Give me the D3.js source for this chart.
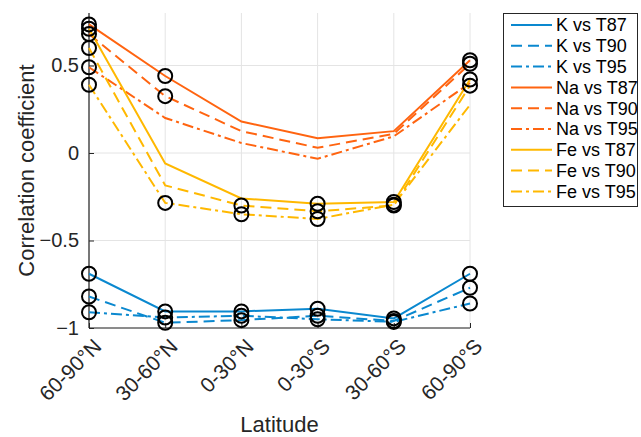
<!DOCTYPE html>
<html>
<head>
<meta charset="utf-8">
<script src="https://cdn.jsdelivr.net/npm/d3@7"></script>
<style>
  body { margin: 0; background: #fff; }
  svg { display: block; font-family: "Liberation Sans", Arial, sans-serif; }
</style>
</head>
<body>
<svg id="chart"></svg>
<script>
// Latitude bands on the x axis
const latitudes = ["60-90°N", "30-60°N", "0-30°N", "0-30°S", "30-60°S", "60-90°S"];
const yTicks = [-1, -0.5, 0, 0.5];

// Correlation values
const kT87 = [-0.69, -0.905, -0.905, -0.89, -0.945, -0.69];
const kT90 = [-0.82, -0.97, -0.955, -0.93, -0.96, -0.77];
const kT95 = [-0.91, -0.94, -0.93, -0.95, -0.965, -0.86];
const naT87 = [0.735, 0.44, 0.18, 0.085, 0.125, 0.53];
const naT90 = [0.68, 0.325, 0.125, 0.03, 0.11, 0.51];
const naT95 = [0.49, 0.20, 0.057, -0.033, 0.095, 0.40];
const feT87 = [0.71, -0.06, -0.26, -0.29, -0.28, 0.42];
const feT90 = [0.60, -0.185, -0.30, -0.333, -0.30, 0.385];
const feT95 = [0.39, -0.285, -0.35, -0.377, -0.295, 0.275];

// points marked with a black circle (1 = marked)
const kT87Sig = [1, 1, 1, 1, 1, 1];
const kT90Sig = [1, 1, 1, 1, 1, 1];
const kT95Sig = [1, 1, 1, 1, 1, 1];
const naT87Sig = [1, 1, 0, 0, 0, 1];
const naT90Sig = [1, 1, 0, 0, 0, 1];
const naT95Sig = [1, 0, 0, 0, 0, 0];
const feT87Sig = [1, 0, 0, 1, 1, 1];
const feT90Sig = [1, 0, 1, 1, 1, 1];
const feT95Sig = [1, 1, 1, 1, 1, 0];

const seriesNames = ["K vs T87", "K vs T90", "K vs T95", "Na vs T87", "Na vs T90", "Na vs T95", "Fe vs T87", "Fe vs T90", "Fe vs T95"];

const blue = "#0a88cf", orange = "#ff6410", yellow = "#ffb800";
const solid = null, dashed = "11,6", dashDot = "11,4,3,4";

const series = [
  { name: seriesNames[0], values: kT87, sig: kT87Sig, color: blue, dash: solid },
  { name: seriesNames[1], values: kT90, sig: kT90Sig, color: blue, dash: dashed },
  { name: seriesNames[2], values: kT95, sig: kT95Sig, color: blue, dash: dashDot },
  { name: seriesNames[3], values: naT87, sig: naT87Sig, color: orange, dash: solid },
  { name: seriesNames[4], values: naT90, sig: naT90Sig, color: orange, dash: dashed },
  { name: seriesNames[5], values: naT95, sig: naT95Sig, color: orange, dash: dashDot },
  { name: seriesNames[6], values: feT87, sig: feT87Sig, color: yellow, dash: solid },
  { name: seriesNames[7], values: feT90, sig: feT90Sig, color: yellow, dash: dashed },
  { name: seriesNames[8], values: feT95, sig: feT95Sig, color: yellow, dash: dashDot }
];

const width = 641, height = 437;
const plotLeft = 89, plotRight = 470, plotTop = 13, plotBottom = 328;
const axisColor = "#262626";

const svg = d3.select("#chart").attr("width", width).attr("height", height);

const x = d3.scalePoint().domain(latitudes).range([plotLeft, plotRight]);
const y = d3.scaleLinear().domain([-1, 0.8]).range([plotBottom, plotTop]);

// grid
svg.append("g").selectAll("line")
  .data(latitudes).enter().append("line")
  .attr("x1", d => x(d)).attr("x2", d => x(d))
  .attr("y1", plotTop).attr("y2", plotBottom)
  .attr("stroke", "#e4e4e4").attr("stroke-width", 1);
svg.append("g").selectAll("line")
  .data(yTicks).enter().append("line")
  .attr("x1", plotLeft).attr("x2", plotRight)
  .attr("y1", d => y(d)).attr("y2", d => y(d))
  .attr("stroke", "#e4e4e4").attr("stroke-width", 1);

// axes
const yAxis = svg.append("g")
  .attr("transform", `translate(${plotLeft},0)`)
  .call(d3.axisLeft(y).tickValues(yTicks).tickSize(-5).tickPadding(10).tickFormat(d3.format("")));
const xAxis = svg.append("g")
  .attr("transform", `translate(0,${plotBottom})`)
  .call(d3.axisBottom(x).tickSize(-5).tickFormat(""));

[yAxis, xAxis].forEach(g => {
  g.select(".domain").attr("stroke", axisColor).attr("stroke-width", 1.2);
  g.selectAll(".tick line").attr("stroke", axisColor);
});
yAxis.select(".domain").attr("d", `M0,${plotTop}V${plotBottom}`);
xAxis.select(".domain").attr("d", `M${plotLeft},0H${plotRight}`);
yAxis.selectAll(".tick text")
  .attr("font-size", 20).attr("fill", axisColor)
  .attr("font-family", "Liberation Sans, Arial, sans-serif");

// rotated category labels
svg.append("g").selectAll("text")
  .data(latitudes).enter().append("text")
  .attr("transform", d => `translate(${x(d) + 3},${plotBottom + 9}) rotate(-45)`)
  .attr("text-anchor", "end")
  .attr("dy", "0.72em")
  .attr("font-size", 21)
  .attr("fill", axisColor)
  .text(d => d);

// axis titles
svg.append("text")
  .attr("x", (plotLeft + plotRight) / 2).attr("y", 432)
  .attr("text-anchor", "middle")
  .attr("font-size", 22).attr("fill", axisColor)
  .text("Latitude");
svg.append("text")
  .attr("transform", `translate(34,${(plotTop + plotBottom) / 2}) rotate(-90)`)
  .attr("text-anchor", "middle")
  .attr("font-size", 22).attr("fill", axisColor)
  .text("Correlation coefficient");

// lines
const line = d3.line()
  .x((d, i) => x(latitudes[i]))
  .y(d => y(d));

svg.append("g").selectAll("path")
  .data(series).enter().append("path")
  .attr("d", d => line(d.values))
  .attr("fill", "none")
  .attr("stroke", d => d.color)
  .attr("stroke-width", 2)
  .attr("stroke-dasharray", d => d.dash);

// black circle markers
const marks = [];
series.forEach(s => s.values.forEach((v, i) => {
  if (s.sig[i]) marks.push({ lat: latitudes[i], v: v });
}));
svg.append("g").selectAll("circle")
  .data(marks).enter().append("circle")
  .attr("cx", d => x(d.lat))
  .attr("cy", d => y(d.v))
  .attr("r", 7)
  .attr("fill", "none")
  .attr("stroke", "#000")
  .attr("stroke-width", 2);

// legend
const legend = svg.append("g");
legend.append("rect")
  .attr("x", 503.5).attr("y", 13.5)
  .attr("width", 134).attr("height", 193)
  .attr("fill", "#fff").attr("stroke", axisColor).attr("stroke-width", 1);
const item = legend.selectAll("g")
  .data(series).enter().append("g")
  .attr("transform", (d, i) => `translate(0,${25 + i * 20.8})`);
item.append("line")
  .attr("x1", 511).attr("x2", 552)
  .attr("stroke", d => d.color)
  .attr("stroke-width", 2)
  .attr("stroke-dasharray", d => d.dash);
item.append("text")
  .attr("x", 556).attr("dy", "0.35em")
  .attr("font-size", 18).attr("fill", "#000")
  .text(d => d.name);
</script>
</body>
</html>
